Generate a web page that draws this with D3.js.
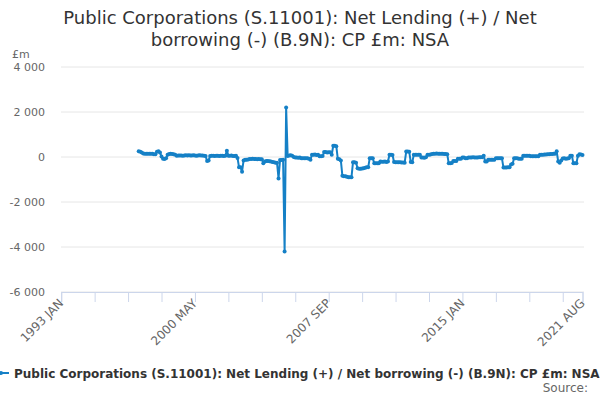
<!DOCTYPE html>
<html>
<head>
<meta charset="utf-8">
<script src="https://cdn.jsdelivr.net/npm/d3@7"></script>
<style>
  body { margin: 0; background: #fff; }
  svg { font-family: "DejaVu Sans", sans-serif; display: block; }
</style>
</head>
<body>
<svg id="chart"></svg>
<script>
// Month names for the category axis
const monthNames = ["JAN", "FEB", "MAR", "APR", "MAY", "JUN", "JUL", "AUG", "SEP", "OCT", "NOV", "DEC"];
const firstYear = 1993, lastYear = 2021, lastMonth = 8;

// Labelled ticks on the x axis
const tickLabels = ["1993 JAN", "2000 MAY", "2007 SEP", "2015 JAN", "2021 AUG"];
const yTicks = [-6000, -4000, -2000, 0, 2000, 4000];

// Series starts in 1997 APR
const firstDataMonth = "1997 APR";
const values = [
    260, 230, 200, 160, 150, 150, 140, 150, 140,                   // 1997
    150, 120, 120, 230, 260, 200, 20, -80, -90, -60, 100, 130,      // 1998
    140, 130, 120, 100, 60, 70, 70, 70, 60, 70, 80, 70,             // 1999
    80, 70, 70, 80, 70, 60, 70, 80, 70, 70, 60, 50,                 // 2000
    -180, -150, 40, 60, 60, 50, 60, 60, 50, 60, 60, 50,             // 2001
    60, 280, 60, 60, 70, 50, 40, 60, -40, -450, -460, -650,         // 2002
    -150, -120, -120, -110, -90, -90, -80, -90, -90, -100, -90, -100, // 2003
    -100, -280, -200, -180, -180, -190, -200, -220, -230, -250, -250, -950, // 2004
    -130, -130, -120, -4200, 2200, 50, 70, 80, 60, 0, -20, -20,     // 2005
    -30, -20, -50, -50, -50, -60, -50, -80, -120, 100, 100, 110,    // 2006
    90, 100, 30, 30, 40, 220, 220, 200, 210, 210, 100, 500,         // 2007
    500, 480, -80, -100, -150, -830, -850, -850, -880, -900, -900, -900, // 2008
    -230, -230, -260, -500, -520, -520, -510, -500, -480, -460, -460, -50, // 2009
    -50, -60, -280, -280, -280, -280, -200, -210, -210, -200, -220, -200, // 2010
    100, 100, 90, -220, -230, -230, -230, -230, -240, -240, -250, 240, // 2011
    240, 230, -220, -230, 100, 100, 100, 100, 100, -20, -20, -30,   // 2012
    -10, 100, 100, 110, 130, 140, 150, 160, 150, 140, 150, 140,     // 2013
    130, 130, 120, -280, -280, -270, -180, -180, -180, -80, -80, -80, // 2014
    -20, -20, -60, -60, -20, -20, -20, -10, -20, -20, -20, -10,     // 2015
    -10, -10, 60, -200, -200, -120, -120, -120, -120, -120, -60, -60, // 2016
    -60, -60, -60, -470, -470, -470, -460, -450, -330, -300, -60, -60, // 2017
    -60, -80, -80, -80, 60, 60, 60, 60, 60, 30, 30, 30,             // 2018
    30, 30, 30, 100, 100, 100, 110, 110, 120, 120, 130, 130,        // 2019
    140, 150, 260, -200, -250, -150, -70, -60, -80, -70, -50, 60,   // 2020
    60, -280, -280, -280, 60, 120, 110, 90                          // 2021
];

const titleLines = ["Public Corporations (S.11001): Net Lending (+) / Net", "borrowing (-) (B.9N): CP £m: NSA"];
const seriesName = "Public Corporations (S.11001): Net Lending (+) / Net borrowing (-) (B.9N): CP £m: NSA";
const lineColor = "#1580c6";

// Build categories 1993 JAN .. 2021 AUG
const categories = [];
for (let y = firstYear; y <= lastYear; y++) {
    for (let m = 0; m < 12; m++) {
        if (y === lastYear && m >= lastMonth) break;
        categories.push(y + " " + monthNames[m]);
    }
}
const startIdx = categories.indexOf(firstDataMonth);
const points = values.map((v, i) => ({ i: startIdx + i, v: v }));

const width = 600, height = 400;
const svg = d3.select("#chart").attr("width", width).attr("height", height);

const x = d3.scaleLinear().domain([0, categories.length - 1]).range([61.2, 582.5]);
const y = d3.scaleLinear().domain([-6000, 4000]).range([292, 67]);

// Title
svg.append("text")
   .attr("x", 300)
   .attr("text-anchor", "middle")
   .attr("font-size", "18px")
   .attr("fill", "#333")
   .selectAll("tspan")
   .data(titleLines)
   .enter()
   .append("tspan")
   .attr("x", 300)
   .attr("y", (d, i) => 24 + i * 22)
   .text(d => d);

// Unit label
svg.append("text")
   .attr("x", 12)
   .attr("y", 58)
   .attr("font-size", "11px")
   .attr("fill", "#666")
   .text("£m");

// Grid lines and y labels
const fmt = v => d3.format(",")(v).replace(/,/g, " ").replace("−", "-");
svg.selectAll(".grid")
   .data(yTicks)
   .enter()
   .append("line")
   .attr("class", "grid")
   .attr("x1", 61)
   .attr("x2", 584)
   .attr("y1", d => y(d))
   .attr("y2", d => y(d))
   .attr("stroke", "#e6e6e6")
   .attr("stroke-width", 1);

svg.selectAll(".ylab")
   .data(yTicks)
   .enter()
   .append("text")
   .attr("class", "ylab")
   .attr("x", 45)
   .attr("y", d => y(d) + 4)
   .attr("text-anchor", "end")
   .attr("font-size", "11px")
   .attr("fill", "#666")
   .text(d => fmt(d));

// X axis: ticks every 22 months plus the last month
const tickIdx = d3.range(0, categories.length, 22).concat([categories.length - 1]);
const labelIdx = tickLabels.map(l => categories.indexOf(l));

const xAxis = svg.append("g")
   .attr("transform", "translate(0," + y(-6000) + ")")
   .call(d3.axisBottom(x).tickValues(tickIdx).tickSize(10).tickFormat(""));
xAxis.select(".domain").attr("stroke", "#ccd6eb");
xAxis.selectAll(".tick line").attr("stroke", "#ccd6eb");

svg.selectAll(".xlab")
   .data(labelIdx)
   .enter()
   .append("text")
   .attr("class", "xlab")
   .attr("transform", d => "translate(" + (x(d) + 3) + "," + 304 + ") rotate(-45)")
   .attr("text-anchor", "end")
   .attr("font-size", "12px")
   .attr("fill", "#666")
   .text(d => categories[d]);

// Series line and markers
const line = d3.line().x(d => x(d.i)).y(d => y(d.v));
svg.append("path")
   .datum(points)
   .attr("d", line)
   .attr("fill", "none")
   .attr("stroke", lineColor)
   .attr("stroke-width", 2)
   .attr("stroke-linejoin", "round");

svg.selectAll(".pt")
   .data(points)
   .enter()
   .append("circle")
   .attr("class", "pt")
   .attr("cx", d => x(d.i))
   .attr("cy", d => y(d.v))
   .attr("r", 2)
   .attr("fill", lineColor);

// Legend
const legend = svg.append("g").attr("transform", "translate(0,373)");
legend.append("line")
   .attr("x1", -7).attr("x2", 9)
   .attr("y1", 0).attr("y2", 0)
   .attr("stroke", lineColor)
   .attr("stroke-width", 2);
legend.append("circle").attr("cx", 1).attr("cy", 0).attr("r", 2).attr("fill", lineColor);
legend.append("text")
   .attr("x", 14)
   .attr("y", 5)
   .attr("font-size", "12px")
   .attr("font-weight", "bold")
   .attr("fill", "#333")
   .text(seriesName);

// Source
svg.append("text")
   .attr("x", 588)
   .attr("y", 392)
   .attr("text-anchor", "end")
   .attr("font-size", "12px")
   .attr("fill", "#666")
   .text("Source:");
</script>
</body>
</html>
